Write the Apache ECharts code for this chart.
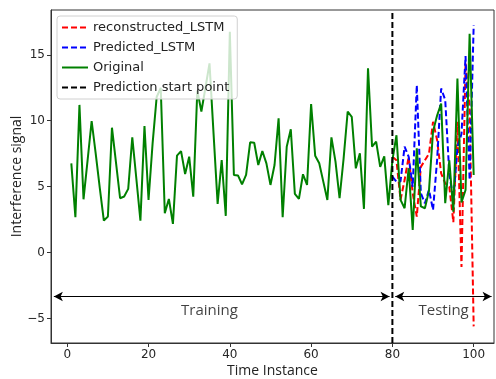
<!DOCTYPE html>
<html>
<head>
<meta charset="utf-8">
<script src="https://cdn.jsdelivr.net/npm/echarts@6/dist/echarts.min.js"></script>
<style>
  html, body { margin: 0; padding: 0; background: #fff; }
  #chart { width: 496px; height: 379px; }
</style>
</head>
<body>
<div id="chart"></div>
<script>
// time instances 1..100 for the original signal
const original = [
  6.77, 2.68, 11.2, 4.04, 7.0, 9.98, 7.5, 4.9, 2.42, 2.73,
  9.47, 6.8, 4.12, 4.25, 4.83, 8.74, 5.6, 2.42, 9.6, 3.99,
  8.28, 11.8, 12.5, 2.98, 4.07, 2.17, 7.35, 7.7, 5.96, 7.27,
  4.24, 12.3, 10.7, 12.5, 14.35, 9.0, 3.69, 7.02, 2.78, 16.74,
  5.89, 5.85, 5.18, 5.89, 8.36, 8.33, 6.64, 7.7, 6.77, 5.13,
  6.64, 10.18, 2.68, 8.03, 9.35, 4.45, 4.07, 5.94, 5.13, 11.27,
  7.35, 6.77, 5.38, 3.99, 8.74, 6.9, 4.12, 7.15, 10.7, 10.3,
  6.39, 7.53, 3.31, 13.97, 8.03, 8.41, 6.5, 7.3, 3.6, 7.0,
  8.9, 4.0, 3.36, 6.4, 1.72, 7.9, 3.5, 3.36, 4.7, 9.2,
  10.4, 11.3, 3.74, 7.0, 3.1, 13.2, 3.8, 4.75, 16.6, 5.89
];
// test part, time instances 80..100
const testStart = 80;
const reconstructed = [
  7.27, 7.0, 4.0, 5.5, 7.27, 4.5, 2.73, 6.5, 7.0, 7.5,
  9.92, 8.54, 6.0, 5.25, 5.0, 2.3, 9.92, -1.1, 14.35, 11.0, -5.6
];
const predicted = [
  5.76, 5.38, 5.4, 8.03, 7.27, 4.99, 12.7, 4.5, 3.74, 4.75,
  3.23, 7.02, 12.45, 11.57, 6.0, 4.0, 8.0, 9.0, 14.9, 5.5, 17.25
];
const xTicks = [0, 20, 40, 60, 80, 100];
const yTicks = [-5, 0, 5, 10, 15];

const xMin = -4, xMax = 105;
const yMin = -6.86, yMax = 18.4;

const origData = original.map((v, i) => [i + 1, v]);
const recData = reconstructed.map((v, i) => [testStart + i, v]);
const predData = predicted.map((v, i) => [testStart + i, v]);

const tickFont = { fontFamily: 'DejaVu Sans', fontSize: 12, color: '#262626' };
const minus = (v) => String(v).replace('-', '\u2212');

const chart = echarts.init(document.getElementById('chart'));
chart.setOption({
  animation: false,
  grid: {
    left: 51, right: 2, top: 10, bottom: 36,
    outerBoundsMode: 'none', containLabel: false,
    show: true, borderColor: '#333', borderWidth: 1
  },
  legend: {
    orient: 'vertical',
    left: 57, top: 16,
    padding: [5, 8, 5, 4],
    itemWidth: 26, itemHeight: 12, itemGap: 7,
    itemStyle: { opacity: 0 },
    backgroundColor: 'rgba(255,255,255,0.8)',
    borderColor: '#d0d0d0', borderWidth: 1, borderRadius: 3,
    textStyle: { fontFamily: 'DejaVu Sans', fontSize: 13, color: '#222' },
    data: ['reconstructed_LSTM', 'Predicted_LSTM', 'Original', 'Prediction start point']
  },
  xAxis: {
    type: 'value', min: xMin, max: xMax,
    name: 'Time Instance', nameLocation: 'middle', nameGap: 21,
    nameMoveOverlap: false,
    nameTextStyle: { fontFamily: 'Open Sans', fontSize: 14, color: '#222' },
    splitLine: { show: false },
    axisLine: { onZero: false, lineStyle: { color: '#333' } },
    axisTick: { customValues: xTicks, length: 4, lineStyle: { color: '#333' } },
    axisLabel: Object.assign({ customValues: xTicks, margin: 6, formatter: minus }, tickFont)
  },
  yAxis: {
    type: 'value', min: yMin, max: yMax,
    name: 'Interference signal', nameLocation: 'middle', nameGap: 27,
    nameMoveOverlap: false,
    nameTextStyle: { fontFamily: 'Open Sans', fontSize: 14, color: '#222' },
    splitLine: { show: false },
    axisLine: { show: true, onZero: false, lineStyle: { color: '#333' } },
    axisTick: { show: true, customValues: yTicks, length: 4, lineStyle: { color: '#333' } },
    axisLabel: Object.assign({ customValues: yTicks, margin: 6, formatter: minus }, tickFont)
  },
  series: [
    {
      name: 'reconstructed_LSTM', type: 'line', data: recData,
      symbol: 'none', color: '#ff0000',
      lineStyle: { color: '#ff0000', width: 2, type: [6, 3] }
    },
    {
      name: 'Predicted_LSTM', type: 'line', data: predData,
      symbol: 'none', color: '#0000ff',
      lineStyle: { color: '#0000ff', width: 2, type: [6, 3] }
    },
    {
      name: 'Original', type: 'line', data: origData,
      symbol: 'none', color: '#008000',
      lineStyle: { color: '#008000', width: 2 }
    },
    {
      name: 'Prediction start point', type: 'line',
      data: [[testStart, yMin], [testStart, yMax]],
      symbol: 'none', color: '#000',
      lineStyle: { color: '#000', width: 2, type: [6, 3] },
      markLine: {
        silent: true, animation: false,
        symbol: ['arrow', 'arrow'], symbolSize: [7, 9],
        lineStyle: { color: '#000', width: 1.2, type: 'solid' },
        label: { show: false },
        data: [
          [{ coord: [-3.3, -3.33] }, { coord: [79.3, -3.33] }],
          [{ coord: [80.7, -3.33] }, { coord: [104.4, -3.33] }]
        ]
      }
    },
    {
      type: 'scatter', symbolSize: 0, silent: true,
      data: [[35, -4.4, 'Training'], [92.6, -4.4, 'Testing']],
      label: {
        show: true, position: 'inside',
        formatter: (p) => p.data[2],
        fontFamily: 'Open Sans', fontSize: 15, color: '#111'
      }
    }
  ]
});
</script>
</body>
</html>
